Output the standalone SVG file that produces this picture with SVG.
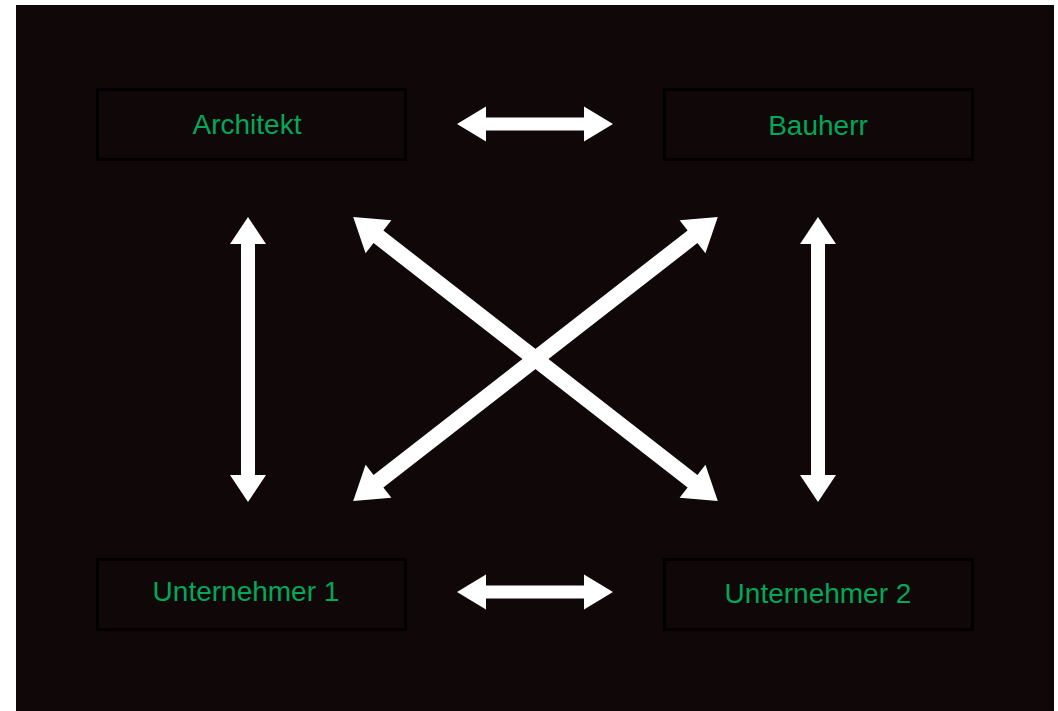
<svg xmlns="http://www.w3.org/2000/svg" width="1058" height="711" viewBox="0 0 1058 711">
<style>
.box{fill:none;stroke:#000;stroke-width:3}
.lbl{font-family:"Liberation Sans",Arial,sans-serif;font-size:28px;fill:#00a85a;text-anchor:middle}
.arr{fill:#fff}
</style>
<defs>
<polygon id="h156" points="-78,0 -49,-17.5 -49,-6.5 49,-6.5 49,-17.5 78,0 49,17.5 49,6.5 -49,6.5 -49,17.5"/>
<polygon id="v285" points="-142.5,0 -115.5,-18 -115.5,-7 115.5,-7 115.5,-18 142.5,0 115.5,18 115.5,7 -115.5,7 -115.5,18"/>
<polygon id="d462" points="-231,0 -199,-21 -199,-8 199,-8 199,-21 231,0 199,21 199,8 -199,8 -199,21"/>
</defs>
<rect x="16" y="5" width="1038" height="706" fill="#100708"/>
<g id="architekt">
<rect class="box" x="97.5" y="89.5" width="308" height="70"/>
<text class="lbl" x="247" y="134">Architekt</text>
</g>
<g id="bauherr">
<rect class="box" x="664.5" y="89.5" width="308" height="70"/>
<text class="lbl" x="818" y="135">Bauherr</text>
</g>
<g id="unternehmer1">
<rect class="box" x="97.5" y="559.5" width="308" height="70"/>
<text class="lbl" x="246" y="601">Unternehmer 1</text>
</g>
<g id="unternehmer2">
<rect class="box" x="664.5" y="559.5" width="308" height="70"/>
<text class="lbl" x="818" y="603">Unternehmer 2</text>
</g>
<g id="connectors" class="arr">
<use href="#h156" transform="translate(535,124)"/>
<use href="#h156" transform="translate(535,592)"/>
<use href="#v285" transform="translate(248,359.5) rotate(90)"/>
<use href="#v285" transform="translate(818,359.5) rotate(90)"/>
<use href="#d462" transform="translate(535.5,359) rotate(37.9)"/>
<use href="#d462" transform="translate(535.5,359) rotate(-37.9)"/>
</g>
</svg>
